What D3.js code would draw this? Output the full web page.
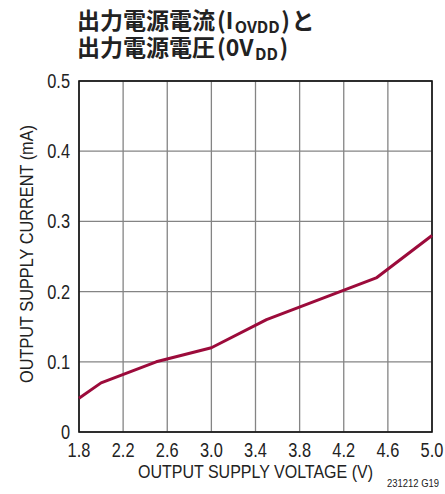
<!DOCTYPE html>
<html><head><meta charset="utf-8">
<script src="https://cdn.jsdelivr.net/npm/d3@7"></script>
<style>
body{margin:0;background:#fff;}
svg text{font-family:"Liberation Sans Narrow","Liberation Sans",Arial,sans-serif;}
</style></head><body>
<svg id="c" width="445" height="494"></svg>
<script>
const voltage = [1.8, 2.0, 2.5, 3.0, 3.5, 4.0, 4.5, 5.0];
const current = [0.048, 0.07, 0.10, 0.12, 0.16, 0.19, 0.22, 0.28];
const xTicks = [1.8, 2.2, 2.6, 3.0, 3.4, 3.8, 4.2, 4.6, 5.0];
const yTicks = [0, 0.1, 0.2, 0.3, 0.4, 0.5];
const xLabels = ["1.8","2.2","2.6","3.0","3.4","3.8","4.2","4.6","5.0"];
const yLabels = ["0","0.1","0.2","0.3","0.4","0.5"];
const titleLine1 = [["出力電源電流",0],["(I",0],["OVDD",1],[")",0],["と",0]];
const titleLine2 = [["出力電源電圧",0],["(0V",0],["DD",1],[")",0]];

const svg = d3.select("#c");
const L=79,R=432,T=81,B=432;
const x = d3.scaleLinear().domain([1.8,5.0]).range([L,R]);
const y = d3.scaleLinear().domain([0,0.5]).range([B,T]);
const SX = 0.84;

// grid
svg.append("g").selectAll("line").data(xTicks).join("line")
  .attr("x1",d=>x(d)).attr("x2",d=>x(d)).attr("y1",T).attr("y2",B)
  .attr("stroke","#848484").attr("stroke-width",1.3);
svg.append("g").selectAll("line").data(yTicks).join("line")
  .attr("y1",d=>y(d)).attr("y2",d=>y(d)).attr("x1",L).attr("x2",R)
  .attr("stroke","#848484").attr("stroke-width",1.3);
// frame
svg.append("rect").attr("x",L).attr("y",T).attr("width",R-L).attr("height",B-T)
  .attr("fill","none").attr("stroke","#111").attr("stroke-width",1.6);

// tick labels
svg.append("g").selectAll("text").data(xTicks).join("text")
  .attr("transform",d=>`translate(${x(d)},457) scale(${SX},1)`).attr("text-anchor","middle")
  .attr("font-size",19.5).attr("fill","#222").text((d,i)=>xLabels[i]);
svg.append("g").selectAll("text").data(yTicks).join("text")
  .attr("transform",d=>`translate(70,${y(d)+7}) scale(${SX},1)`).attr("text-anchor","end")
  .attr("font-size",19.5).attr("fill","#222").text((d,i)=>yLabels[i]);

// line
svg.append("path").datum(voltage.map((v,i)=>[v,current[i]]))
  .attr("d",d3.line().x(d=>x(d[0])).y(d=>y(d[1])))
  .attr("fill","none").attr("stroke","#9c0b3b").attr("stroke-width",3)
  .attr("stroke-linejoin","round");

// axis titles
svg.append("text").attr("x",(L+R)/2).attr("y",478).attr("text-anchor","middle")
  .attr("font-size",18).attr("fill","#222")
  .attr("textLength",235).attr("lengthAdjust","spacingAndGlyphs")
  .text("OUTPUT SUPPLY VOLTAGE (V)");
svg.append("text").attr("transform",`translate(33,254) rotate(-90)`)
  .attr("text-anchor","middle").attr("font-size",18).attr("fill","#222")
  .attr("textLength",258).attr("lengthAdjust","spacingAndGlyphs")
  .text("OUTPUT SUPPLY CURRENT (mA)");
svg.append("text").attr("x",387).attr("y",487).attr("text-anchor","start")
  .attr("font-size",10.5).attr("fill","#222")
  .attr("textLength",52).attr("lengthAdjust","spacingAndGlyphs")
  .text("231212 G19");

// title (pieces laid out side by side)
const tf = '"Noto Sans CJK JP","Noto Sans CJK SC",sans-serif';
function titleLine(parts, baseY){
  let cx = 77;
  parts.forEach(([s,sub],i)=>{
    const t = svg.append("text").attr("x",cx).attr("y",baseY + (sub?4:0))
      .attr("font-size",sub?16:23).attr("font-weight","bold").attr("fill","#222")
      .style("font-family",tf).text(s);
    cx += t.node().getComputedTextLength() + (i===0?2:1.5);
  });
}
titleLine(titleLine1, 29);
titleLine(titleLine2, 56);
</script>
</body></html>
